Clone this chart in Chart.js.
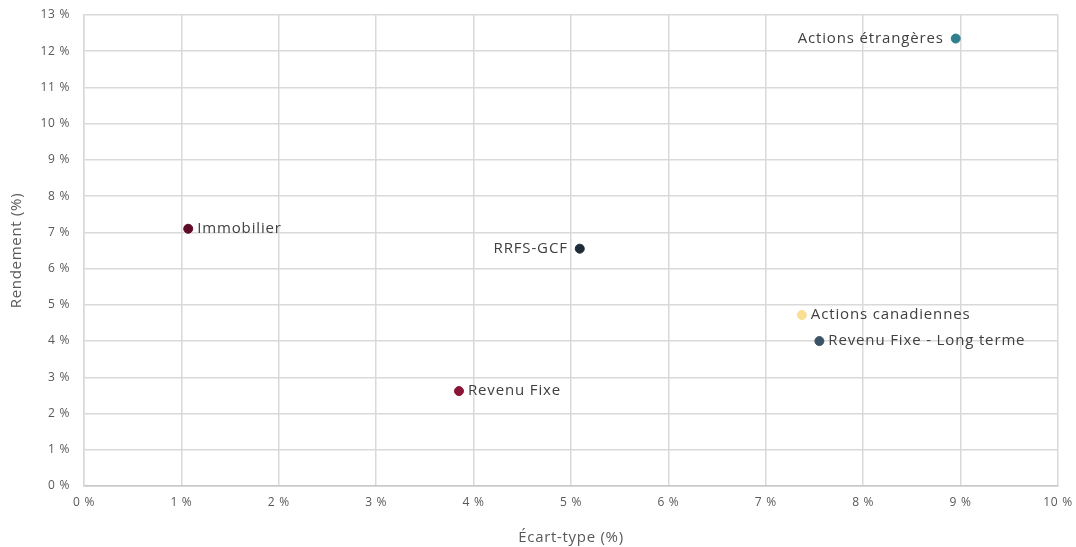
<!DOCTYPE html>
<html lang="fr">

<head>
    <meta charset="UTF-8">
    <title>Rendement vs écart-type</title>
    <script src="https://cdn.jsdelivr.net/npm/chart.js@4.4.1/dist/chart.umd.min.js"></script>
    <style>
        html, body { margin: 0; padding: 0; background: #fff; overflow: hidden; }
        #wrap { width: 1076px; height: 547px; }
    </style>
</head>

<body>
    <div id="wrap"><canvas id="mychart"></canvas></div>
    <script>
        // données
        var noms = ['Immobilier', 'RRFS-GCF', 'Actions étrangères', 'Actions canadiennes', 'Revenu Fixe - Long terme', 'Revenu Fixe'];
        var ecartType = [1.07, 5.09, 8.95, 7.37, 7.55, 3.85];
        var rendement = [7.1, 6.55, 12.35, 4.72, 4.0, 2.62];
        var xTicks = [0, 1, 2, 3, 4, 5, 6, 7, 8, 9, 10];
        var yTicks = [0, 1, 2, 3, 4, 5, 6, 7, 8, 9, 10, 11, 12, 13];

        var couleurs = ['#5e0b27', '#1e2b38', '#2f7f8c', '#f8df92', '#3b5366', '#8a1536'];
        var cote = ['right', 'left', 'left', 'right', 'right', 'right'];

        var points = noms.map(function (n, i) {
            return { x: ecartType[i], y: rendement[i] };
        });

        // le texte d'origine est plus large, on écarte un peu les lettres
        var espacement = {
            id: 'espacement',
            beforeDraw: function (chart) {
                chart.ctx.letterSpacing = '0.7px';
            }
        };

        var etiquettes = {
            id: 'etiquettes',
            afterDatasetsDraw: function (chart) {
                var ctx = chart.ctx;
                var meta = chart.getDatasetMeta(0);
                ctx.save();
                ctx.font = '15px "Open Sans", sans-serif';
                ctx.letterSpacing = '0.85px';
                ctx.fillStyle = '#404040';
                ctx.textBaseline = 'middle';
                meta.data.forEach(function (pt, i) {
                    if (cote[i] == 'left') {
                        ctx.textAlign = 'right';
                        ctx.fillText(noms[i], pt.x - 12, pt.y);
                    } else {
                        ctx.textAlign = 'left';
                        ctx.fillText(noms[i], pt.x + 9, pt.y);
                    }
                });
                ctx.restore();
            }
        };

        const ctx = document.getElementById('mychart');

        var mychart = new Chart(ctx, {
            type: 'scatter',
            data: {
                datasets: [{
                    label: 'Actifs',
                    data: points,
                    pointBackgroundColor: couleurs,
                    pointBorderColor: couleurs,
                    pointRadius: 4.5,
                    pointHoverRadius: 4.5
                }]
            },
            options: {
                responsive: true,
                maintainAspectRatio: false,
                animation: false,
                layout: { padding: { top: 15, right: 18, left: 8, bottom: 0 } },
                plugins: {
                    legend: { display: false },
                    tooltip: { enabled: false }
                },
                scales: {
                    x: {
                        type: 'linear',
                        min: 0,
                        max: 10,
                        afterBuildTicks: function (axis) {
                            axis.ticks = xTicks.map(function (v) { return { value: v }; });
                        },
                        ticks: {
                            color: '#595959',
                            font: { family: 'Open Sans', size: 12 },
                            padding: 9,
                            callback: function (v) { return v + ' %'; }
                        },
                        grid: { color: '#d9d9d9', lineWidth: 1.5, drawTicks: false },
                        border: { color: '#c8c8c8', width: 1.5 },
                        title: {
                            display: true,
                            text: 'Écart-type (%)',
                            color: '#595959',
                            font: { family: 'Open Sans', size: 15 },
                            padding: { top: 5, bottom: 0 }
                        },
                        afterFit: function (axis) {
                            axis.height = 61;
                            axis.paddingLeft = 0;
                            axis.paddingRight = 0;
                        }
                    },
                    y: {
                        type: 'linear',
                        min: 0,
                        max: 13,
                        afterBuildTicks: function (axis) {
                            axis.ticks = yTicks.map(function (v) { return { value: v }; });
                        },
                        ticks: {
                            color: '#595959',
                            font: { family: 'Open Sans', size: 12 },
                            padding: 14,
                            callback: function (v) { return v + ' %'; }
                        },
                        grid: { color: '#d9d9d9', lineWidth: 1.5, drawTicks: false },
                        border: { color: '#d9d9d9', width: 1.5 },
                        title: {
                            display: true,
                            text: 'Rendement (%)',
                            color: '#595959',
                            font: { family: 'Open Sans', size: 15 },
                            padding: { top: 0, bottom: 0 }
                        },
                        afterFit: function (axis) {
                            axis.width = 76;
                            axis.paddingTop = 0;
                            axis.paddingBottom = 0;
                        }
                    }
                }
            },
            plugins: [espacement, etiquettes]
        });
    </script>
</body>

</html>
